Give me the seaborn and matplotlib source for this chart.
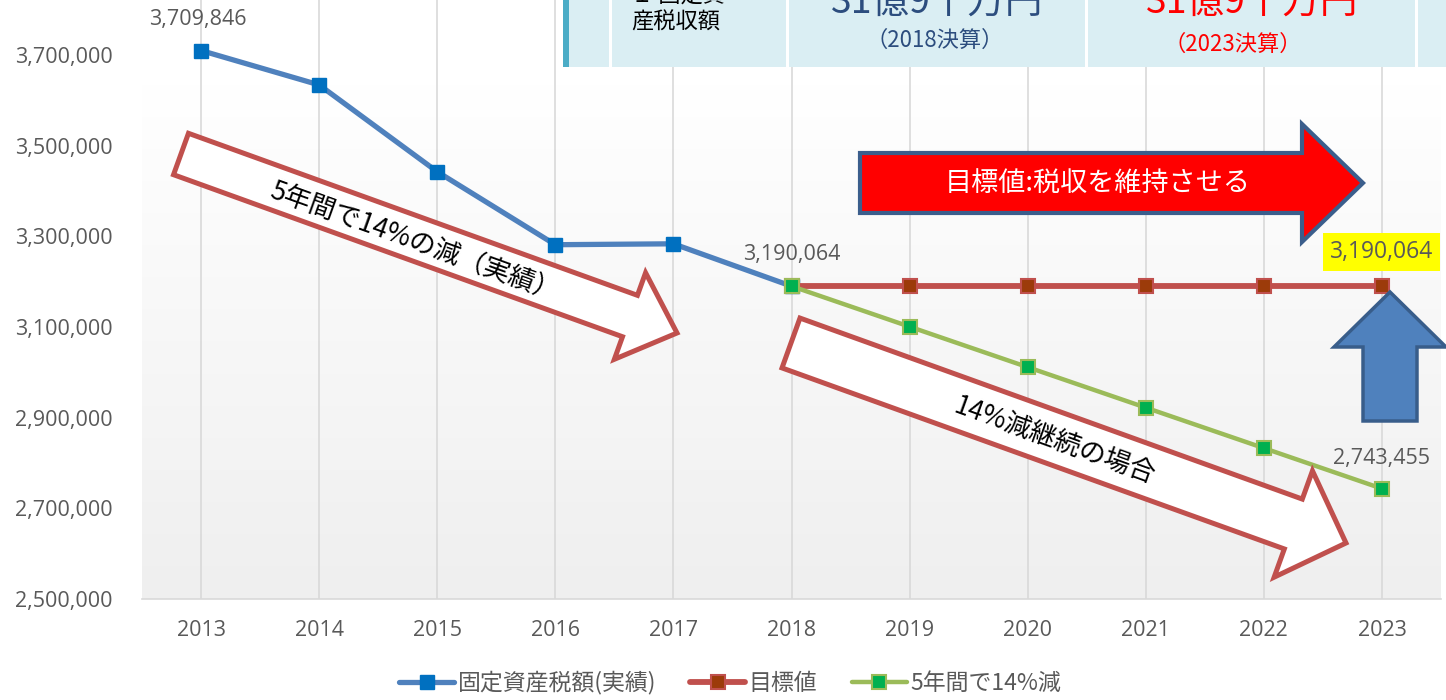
import numpy as np
import matplotlib
matplotlib.use('Agg')
import matplotlib.pyplot as plt
import seaborn as sns
from matplotlib.patches import Polygon, Rectangle
from matplotlib.ticker import FuncFormatter

# ---------------- data ----------------
years = ['2013', '2014', '2015', '2016', '2017', '2018',
         '2019', '2020', '2021', '2022', '2023']
actual_years = ['2013', '2014', '2015', '2016', '2017', '2018']
actual = [3709846, 3634000, 3442500, 3281500, 3283500, 3190064]
plan_years = ['2018', '2019', '2020', '2021', '2022', '2023']
target = [3190064, 3190064, 3190064, 3190064, 3190064, 3190064]
reduce14 = [3190064, 3100700, 3011400, 2922100, 2832800, 2743455]
series_names = ['固定資産税額(実績)', '目標値', '5年間で14%減']
yticks = [2500000, 2700000, 2900000, 3100000, 3300000, 3500000, 3700000]

# ---------------- style ----------------
sns.set_theme(style='white')
plt.rcParams['font.family'] = ['Open Sans', 'Noto Sans CJK JP', 'DejaVu Sans']
JP = ['Noto Sans CJK JP', 'DejaVu Sans']

W, H = 1446, 700
fig = plt.figure(figsize=(W / 100, H / 100), dpi=100)
fig.patch.set_facecolor('white')


def fx(x):
    return x / W


def fy(y):
    return 1 - y / H


ax = fig.add_axes([fx(142), fy(599), (1441 - 142) / W, 599 / H])
ax.set_facecolor('white')

pos = {y: i for i, y in enumerate(years)}
ymin, ymax = 2500000, 3821300
ax.set_xlim(-0.5, len(years) - 0.5)
ax.set_ylim(ymin, ymax)

# gradient plot-area background
grad = np.linspace(0, 1, 256).reshape(-1, 1)
cmap = matplotlib.colors.LinearSegmentedColormap.from_list('g', ['#ffffff', '#efefef'])
ax.imshow(grad, extent=[-0.5, len(years) - 0.5, ymin, 3634000], aspect='auto',
          cmap=cmap, origin='upper', zorder=0)

# vertical gridlines
for i in range(len(years)):
    ax.axvline(i, color='#d9d9d9', lw=1.2, zorder=1)

# series
xa = [pos[y] for y in actual_years]
xp = [pos[y] for y in plan_years]
sns.lineplot(x=xa, y=actual, ax=ax, color='#4f81bd', lw=3.8, marker='s', markersize=10,
             markerfacecolor='#0070c0', markeredgecolor='#0070c0', markeredgewidth=1,
             label=series_names[0], zorder=3)
sns.lineplot(x=xp, y=target, ax=ax, color='#c0504d', lw=4.2, marker='s', markersize=10,
             markerfacecolor='#9c3b0a', markeredgecolor='#c0504d', markeredgewidth=1.5,
             label=series_names[1], zorder=3)
sns.lineplot(x=xp, y=reduce14, ax=ax, color='#9bbb59', lw=3.2, marker='s', markersize=10,
             markerfacecolor='#00b050', markeredgecolor='#9bbb59', markeredgewidth=1.5,
             label=series_names[2], zorder=4)

handles, labels = ax.get_legend_handles_labels()
if ax.get_legend() is not None:
    ax.get_legend().remove()

# axes styling
ax.set_xticks(range(len(years)))
ax.set_xticklabels(years)
ax.set_yticks(yticks)
ax.yaxis.set_major_formatter(FuncFormatter(lambda v, p: f'{v:,.0f}'))
ax.tick_params(axis='y', length=0, pad=21, labelsize=15.5, labelcolor='#595959')
ax.tick_params(axis='x', length=0, pad=15, labelsize=15.5, labelcolor='#595959')
ax.set_xlabel('')
ax.set_ylabel('')
for s in ['top', 'right', 'left']:
    ax.spines[s].set_visible(False)
ax.spines['bottom'].set_color('#d9d9d9')
ax.spines['bottom'].set_linewidth(1.2)

# data labels
lab_kw = dict(textcoords='offset pixels', ha='center', va='center', fontsize=15.5, color='#595959')
ax.annotate(f'{actual[0]:,}', (xa[0], actual[0]), xytext=(-3, 31), **lab_kw)
ax.annotate(f'{actual[-1]:,}', (xa[-1], actual[-1]), xytext=(0, 32), **lab_kw)
ax.annotate(f'{reduce14[-1]:,}', (xp[-1], reduce14[-1]), xytext=(0, 30), **lab_kw)
ax.annotate(f'{target[-1]:,}', (xp[-1], target[-1]), xytext=(0, 34), textcoords='offset pixels',
            ha='center', va='center', fontsize=16.5, color='#595959', zorder=6,
            bbox=dict(boxstyle='square,pad=0.3', fc='#ffff00', ec='none'))

# legend
leg = fig.legend(handles, labels, loc='center', bbox_to_anchor=(fx(730), fy(683)), ncol=3,
                 frameon=False, handlelength=2.4, handletextpad=0.15, columnspacing=1.5,
                 prop={'family': JP, 'size': 16.5})
for t in leg.get_texts():
    t.set_color('#595959')


# ---------------- shapes ----------------
def block_arrow(tail, tip, body_w, head_w, head_len, **kw):
    tail = np.array(tail, float)
    tip = np.array(tip, float)
    d = tip - tail
    u = d / np.hypot(*d)
    n = np.array([-u[1], u[0]])
    base = tip - u * head_len
    pts = [tail + n * body_w / 2, base + n * body_w / 2, base + n * head_w / 2, tip,
           base - n * head_w / 2, base - n * body_w / 2, tail - n * body_w / 2]
    pts = [(fx(p[0]), fy(p[1])) for p in pts]
    poly = Polygon(pts, closed=True, transform=fig.transFigure, joinstyle='miter', **kw)
    fig.patches.append(poly)
    ang = -np.degrees(np.arctan2(d[1], d[0]))
    return ang


# arrow 1: 5年間で14%の減（実績）
a1 = block_arrow((181, 154), (677, 333), 44, 92, 50, fc='white', ec='#c0504d', lw=3.6, zorder=5)
fig.text(fx(414), fy(242), '5年間で14%の減（実績）', rotation=a1, rotation_mode='anchor',
         ha='center', va='center', fontsize=19, family=JP, color='black', zorder=6)

# arrow 2: 14%減継続の場合
a2 = block_arrow((791, 343), (1346, 543), 53, 113, 56, fc='white', ec='#c0504d', lw=3.6, zorder=5)
fig.text(fx(1055), fy(441), '14%減継続の場合', rotation=a2, rotation_mode='anchor',
         ha='center', va='center', fontsize=19, family=JP, color='black', zorder=6)

# red horizontal arrow
block_arrow((860, 183), (1363, 183), 60, 118, 61, fc='#ff0000', ec='#3b5e8c', lw=3.0, zorder=5)
fig.text(fx(1098), fy(183), '目標値:税収を維持させる', ha='center', va='center', fontsize=19.5,
         family=JP, color='white', zorder=6)

# blue up arrow
block_arrow((1390, 421), (1390, 292), 54, 112, 55, fc='#4f81bd', ec='#385d8a', lw=2.5, zorder=5)

# ---------------- top table (cropped at the top edge, as in the reference) ----------------
fig.patches.append(Rectangle((fx(563), fy(67)), (W - 563) / W, 67 / H, transform=fig.transFigure,
                             fc='#daeef3', ec='none', zorder=4))
fig.patches.append(Rectangle((fx(563), fy(67)), 6 / W, 67 / H, transform=fig.transFigure,
                             fc='#4bacc6', ec='none', zorder=4))
for xs, w in [(609, 3), (786, 3), (1085, 3), (1415, 3)]:
    fig.patches.append(Rectangle((fx(xs), fy(67)), w / W, 67 / H, transform=fig.transFigure,
                                 fc='white', ec='none', zorder=4))
fig.text(fx(631), fy(22), '産税収額', ha='left', va='center', fontsize=16, family=JP,
         color='black', zorder=6)
fig.text(fx(631), fy(3), '１ 固定資', ha='left', va='baseline', fontsize=16, family=JP,
         color='black', zorder=6)
fig.text(fx(937), fy(13), '31億9千万円', ha='center', va='baseline', fontsize=27, family=JP,
         color='#2c4d7e', zorder=6)
fig.text(fx(935), fy(40), '（2018決算）', ha='center', va='center', fontsize=16, family=JP,
         color='#2c4d7e', zorder=6)
fig.text(fx(1252), fy(13), '31億9千万円', ha='center', va='baseline', fontsize=27, family=JP,
         color='#ff0000', zorder=6)
fig.text(fx(1233), fy(44), '（2023決算）', ha='center', va='center', fontsize=16, family=JP,
         color='#ff0000', zorder=6)

fig.savefig('out.png', dpi=100)
